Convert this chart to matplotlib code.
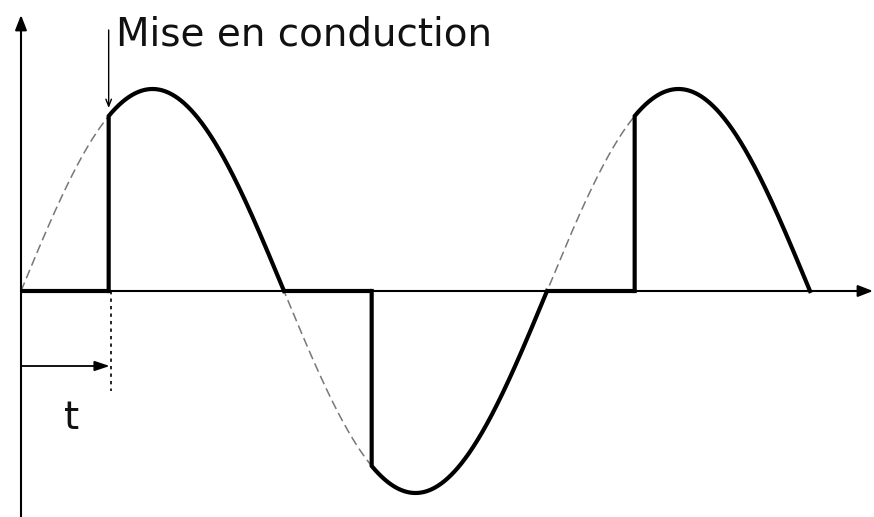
import numpy as np
import matplotlib.pyplot as plt

# waveform parameters (degrees / normalised amplitude)
amplitude = 1.0
firing_angle = 60.0          # retard a l'amorcage
half_periods = [0.0, 180.0, 360.0]
x_end = 540.0
label_text = "Mise en conduction"
delay_label = "t"

# pixel mapping of the reference: x=0deg at px 21, 540deg at px 810, y=0 at px 291, y=1 at px 89
px_per_deg = (810 - 21) / x_end
px_per_unit = 291 - 89
W, H = 874, 517

fig = plt.figure(figsize=(W / 100, H / 100), dpi=100)
ax = fig.add_axes([0, 0, 1, 1])
ax.set_xlim(-21 / px_per_deg, (W - 21) / px_per_deg)
ax.set_ylim(-(H - 291) / px_per_unit, 291 / px_per_unit)
ax.axis("off")

theta = np.linspace(0, x_end, 2000)
ax.plot(theta, amplitude * np.sin(np.radians(theta)), color="#777777", lw=1.1,
        ls=(0, (6, 3)), zorder=2)

# controlled output: zero until firing, then follows the sine to the end of the half period
for start in half_periods:
    fire = start + firing_angle
    off = np.linspace(start, fire, 2)
    ax.plot(off, np.zeros_like(off), color="black", lw=3, solid_capstyle="butt", zorder=3)
    on = np.linspace(fire, start + 180.0, 400)
    y_on = amplitude * np.sin(np.radians(on))
    ax.plot(np.r_[fire, on], np.r_[0.0, y_on], color="black", lw=3,
            solid_joinstyle="miter", zorder=3)

# axes with arrow heads
ymin, ymax = ax.get_ylim()
xmin, xmax = ax.get_xlim()
head = dict(arrowstyle="-|>,head_length=0.9,head_width=0.35", color="black", lw=1.5,
            shrinkA=0, shrinkB=0)
ax.annotate("", xy=(0, 276 / px_per_unit), xytext=(0, ymin), arrowprops=head, zorder=4)
ax.annotate("", xy=(xmax - 1 / px_per_deg, 0), xytext=(0, 0), arrowprops=head, zorder=4)

# "Mise en conduction" pointer
ax.annotate("", xy=(firing_angle, 183 / px_per_unit), xytext=(firing_angle, 261 / px_per_unit),
            arrowprops=dict(arrowstyle="->,head_length=0.5,head_width=0.2", color="black",
                            lw=1.0, shrinkA=0, shrinkB=0), zorder=4)
ax.text(firing_angle + 7 / px_per_deg, 256 / px_per_unit, label_text, fontsize=28,
        ha="left", va="center", color="#111111")

# delay t
ax.plot([firing_angle + 2 / px_per_deg] * 2, [0, -100 / px_per_unit], color="black",
        lw=1.2, ls=(0, (2, 2.5)), zorder=3)
ax.annotate("", xy=(firing_angle + 1 / px_per_deg, -75 / px_per_unit), xytext=(0, -75 / px_per_unit),
            arrowprops=dict(arrowstyle="-|>,head_length=0.9,head_width=0.3", color="black",
                            lw=1.3, shrinkA=0, shrinkB=0), zorder=4)
ax.text(51 / px_per_deg, -127 / px_per_unit, delay_label, fontsize=28, ha="center",
        va="center", color="#111111")

fig.savefig("out.png", dpi=100)
